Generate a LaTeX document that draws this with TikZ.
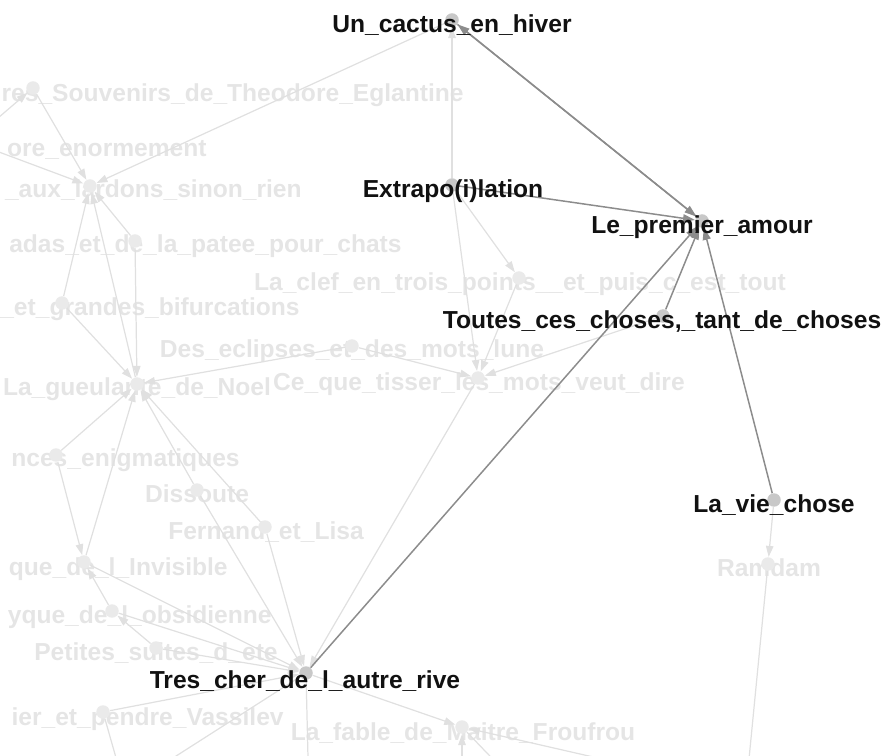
\documentclass[tikz,border=0pt]{standalone}
\usepackage{fontspec}
\setmainfont{Liberation Sans}
\usetikzlibrary{arrows.meta}

\definecolor{edgedark}{RGB}{140,140,140}
\definecolor{edgelight}{RGB}{224,224,224}
\definecolor{vertdark}{RGB}{200,200,200}
\definecolor{vertlight}{RGB}{234,234,234}
\definecolor{labellight}{RGB}{229,229,229}
\definecolor{labeldark}{RGB}{17,17,17}

\begin{document}
\begin{tikzpicture}[x=0.02cm,y=-0.02cm,
  vtx/.style={circle,inner sep=0pt,minimum size=0.27cm,fill=vertlight},
  hvtx/.style={vtx,fill=vertdark},
  lbl/.style={inner sep=0pt,font=\fontsize{14}{16}\selectfont\bfseries,text=labellight},
  hlbl/.style={lbl,text=labeldark},
  edge/.style={draw=edgelight,line width=0.7pt,-{Triangle[length=0.22cm,width=0.15cm]}},
  hedge/.style={draw=edgedark,line width=0.85pt,-{Triangle[length=0.24cm,width=0.16cm]}}]
\useasboundingbox (0,0) rectangle (889,756);
\clip (0,0) rectangle (889,756);
% faded labels
\node[lbl,anchor=base east] (souv-l) at (464,102) {res\_Souvenirs\_de\_Theodore\_Eglantine};
\node[lbl,anchor=base east] (ore-l) at (207,157) {ore\_enormement};
\node[lbl,anchor=base east] (lardons-l) at (302,198) {\_aux\_lardons\_sinon\_rien};
\node[lbl,anchor=base east] (patee-l) at (402,253) {adas\_et\_de\_la\_patee\_pour\_chats};
\node[lbl,anchor=base] (clef-l) at (520,291) {La\_clef\_en\_trois\_points\_\_et\_puis\_c\_est\_tout};
\node[lbl,anchor=base east] (grandes-l) at (300,316) {\_et\_grandes\_bifurcations};
\node[lbl,anchor=base] (eclipses-l) at (352,358) {Des\_eclipses\_et\_des\_mots\_lune};
\node[lbl,anchor=base] (cequ-l) at (479,391) {Ce\_que\_tisser\_les\_mots\_veut\_dire};
\node[lbl,anchor=base] (gueulante-l) at (137,396) {La\_gueulante\_de\_Noel};
\node[lbl,anchor=base east] (nces-l) at (240,467) {nces\_enigmatiques};
\node[lbl,anchor=base] (dissoute-l) at (197,502) {Dissoute};
\node[lbl,anchor=base] (fernand-l) at (266,540) {Fernand\_et\_Lisa};
\node[lbl,anchor=base east] (invisible-l) at (228,575) {que\_de\_l\_Invisible};
\node[lbl,anchor=base east] (obsid-l) at (272,623) {yque\_de\_l\_obsidienne};
\node[lbl,anchor=base] (petites-l) at (156,660) {Petites\_suites\_d\_ete};
\node[lbl,anchor=base east] (vassilev-l) at (284,725) {ier\_et\_pendre\_Vassilev};
\node[lbl,anchor=base] (fable-l) at (463,740) {La\_fable\_de\_Maitre\_Froufrou};
\node[lbl,anchor=base] (ramdam-l) at (769,576) {Ramdam};

% vertices
\node[vtx] (souv) at (33,88) {};
\node[vtx] (lardons) at (90,186) {};
\node[vtx] (patee) at (135,241) {};
\node[vtx] (clef) at (519,278) {};
\node[vtx] (grandes) at (62,303) {};
\node[vtx] (eclipses) at (352,346) {};
\node[vtx] (cequ) at (478,378) {};
\node[vtx] (gueulante) at (137,384) {};
\node[vtx] (nces) at (56,455) {};
\node[vtx] (dissoute) at (197,490) {};
\node[vtx] (fernand) at (265,527) {};
\node[vtx] (invisible) at (84,562) {};
\node[vtx] (obsid) at (112,611) {};
\node[vtx] (petites) at (156,648) {};
\node[vtx] (vassilev) at (103,712) {};
\node[vtx] (fable) at (462,727) {};
\node[vtx] (ramdam) at (768,564) {};
\node[hvtx] (cactus) at (452,20) {};
\node[hvtx] (extrapo) at (452,185) {};
\node[hvtx] (premier) at (702,221) {};
\node[hvtx] (toutes) at (663,316) {};
\node[hvtx] (lavie) at (774,500) {};
\node[hvtx] (trescher) at (306,673) {};
% off the picture
\coordinate (offsouv) at (-30,142);
\coordinate (offore) at (-60,130);
\coordinate (offA) at (309,800);
\coordinate (offB) at (137,781);
\coordinate (offC) at (128,800);
\coordinate (offD) at (462,800);
\coordinate (offE) at (510,777);
\coordinate (offF) at (650,770);
\coordinate (offG) at (745,800);

% faded edges
\draw[edge] (offsouv) -- (souv);
\draw[edge] (souv) -- (lardons);
\draw[edge] (offore) -- (lardons);
\draw[edge] (cactus) -- (lardons);
\draw[edge] (patee) -- (lardons);
\draw[edge] (grandes) -- (lardons);
\draw[edge] (gueulante) -- (lardons);
\draw[edge] (patee) -- (gueulante);
\draw[edge] (grandes) -- (gueulante);
\draw[edge] (eclipses) -- (gueulante);
\draw[edge] (eclipses) -- (cequ);
\draw[edge] (extrapo) -- (cequ);
\draw[edge] (extrapo) -- (clef);
\draw[edge] (clef) -- (cequ);
\draw[edge] (toutes) -- (cequ);
\draw[edge] (extrapo) -- (cactus);
\draw[edge] (cequ) -- (trescher);
\draw[edge] (nces) -- (gueulante);
\draw[edge] (nces) -- (invisible);
\draw[edge] (invisible) -- (gueulante);
\draw[edge] (dissoute) -- (gueulante);
\draw[edge] (fernand) -- (gueulante);
\draw[edge] (dissoute) -- (trescher);
\draw[edge] (fernand) -- (trescher);
\draw[edge] (invisible) -- (trescher);
\draw[edge] (obsid) -- (invisible);
\draw[edge] (obsid) -- (trescher);
\draw[edge] (petites) -- (obsid);
\draw[edge] (petites) -- (trescher);
\draw[edge] (vassilev) -- (trescher);
\draw[edge] (vassilev) -- (offC);
\draw[edge] (trescher) -- (offA);
\draw[edge] (trescher) -- (offB);
\draw[edge] (trescher) -- (fable);
\draw[edge] (offD) -- (fable);
\draw[edge] (fable) -- (offE);
\draw[edge] (offF) -- (fable);
\draw[edge] (lavie) -- (ramdam);
\draw[edge] (ramdam) -- (offG);

% highlighted edges
\draw[hedge] (cactus) -- (premier);
\draw[hedge] (premier) -- (cactus);
\draw[hedge] (extrapo) -- (premier);
\draw[hedge] (toutes) -- (premier);
\draw[hedge] (trescher) -- (premier);
\draw[hedge] (lavie) -- (premier);

% highlighted labels
\node[hlbl,anchor=base] (cactus-l) at (452,33) {Un\_cactus\_en\_hiver};
\node[hlbl,anchor=base] (extrapo-l) at (453,198) {Extrapo(i)lation};
\node[hlbl,anchor=base] (premier-l) at (702,234) {Le\_premier\_amour};
\node[hlbl,anchor=base] (toutes-l) at (662,329) {Toutes\_ces\_choses,\_tant\_de\_choses};
\node[hlbl,anchor=base] (lavie-l) at (774,513) {La\_vie\_chose};
\node[hlbl,anchor=base] (trescher-l) at (305,688) {Tres\_cher\_de\_l\_autre\_rive};
\end{tikzpicture}
\end{document}
